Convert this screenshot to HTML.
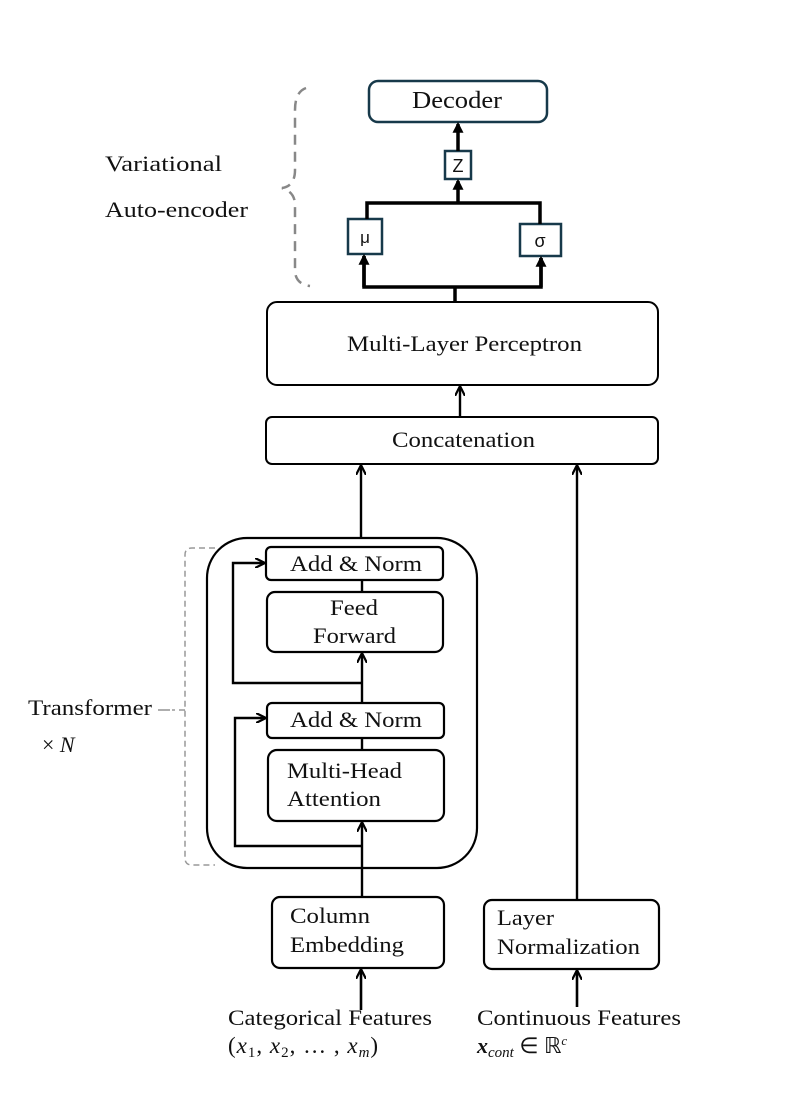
<!DOCTYPE html>
<html><head><meta charset="utf-8"><style>
html,body{margin:0;padding:0;background:#fff}
svg text{font-family:"Liberation Serif",serif;fill:#111}
</style></head><body>
<svg width="812" height="1108" viewBox="0 0 812 1108" xmlns="http://www.w3.org/2000/svg">
<defs>
<marker id="a" viewBox="0 0 10 10" refX="9" refY="5" markerWidth="10" markerHeight="10" markerUnits="userSpaceOnUse" orient="auto"><path d="M0,0 L10,5 L0,10" fill="none" stroke="#000" stroke-width="2.2"/></marker>
<marker id="b" viewBox="0 0 10 10" refX="8" refY="5" markerWidth="11" markerHeight="13" markerUnits="userSpaceOnUse" orient="auto"><path d="M0,0 L10,5 L0,10 Z" fill="#000"/></marker>
</defs>
<!-- VAE -->
<rect x="369" y="81" width="178" height="41" rx="9" fill="#fff" stroke="#17394a" stroke-width="2.5"/>
<text x="412" y="108" font-size="24" textLength="90" lengthAdjust="spacingAndGlyphs">Decoder</text>
<rect x="445" y="151" width="26" height="28" fill="#fff" stroke="#17394a" stroke-width="2.5"/>
<text x="458" y="172" font-size="18" text-anchor="middle" style="font-family:'Liberation Sans',sans-serif">Z</text>
<rect x="348" y="219" width="34" height="35" fill="#fff" stroke="#17394a" stroke-width="2.5"/>
<text x="365" y="243" font-size="17" text-anchor="middle" style="font-family:'Liberation Sans',sans-serif">μ</text>
<rect x="520" y="224" width="41" height="32" fill="#fff" stroke="#17394a" stroke-width="2.5"/>
<text x="540" y="247" font-size="18" text-anchor="middle" style="font-family:'Liberation Sans',sans-serif">σ</text>
<g stroke="#000" stroke-width="3.5" fill="none">
<line x1="458" y1="151" x2="458" y2="124" marker-end="url(#b)"/>
<line x1="458" y1="203" x2="458" y2="181" marker-end="url(#b)"/>
<polyline points="367,219 367,203 540,203 540,224"/>
<polyline points="364,256 364,287 541,287 541,258"/>
<line x1="364" y1="287" x2="364" y2="256" marker-end="url(#b)"/>
<line x1="541" y1="287" x2="541" y2="258" marker-end="url(#b)"/>
<line x1="455" y1="287" x2="455" y2="302"/>
</g>
<path d="M306,88 Q295,92 295,110 L295,170 Q295,186 282,188 Q295,192 295,205 L295,270 Q295,284 310,286" fill="none" stroke="#888" stroke-width="2.5" stroke-dasharray="10,7"/>
<text x="105" y="171" font-size="22" textLength="117" lengthAdjust="spacingAndGlyphs">Variational</text>
<text x="105" y="217" font-size="22" textLength="143" lengthAdjust="spacingAndGlyphs">Auto-encoder</text>
<!-- MLP / concat -->
<rect x="267" y="302" width="391" height="83" rx="10" fill="#fff" stroke="#000" stroke-width="2"/>
<text x="347" y="351" font-size="22" textLength="235" lengthAdjust="spacingAndGlyphs">Multi-Layer Perceptron</text>
<rect x="266" y="417" width="392" height="47" rx="6" fill="#fff" stroke="#000" stroke-width="2"/>
<text x="392" y="447" font-size="22" textLength="143" lengthAdjust="spacingAndGlyphs">Concatenation</text>
<g stroke="#000" stroke-width="2.4" fill="none">
<line x1="460" y1="416" x2="460" y2="387" marker-end="url(#a)"/>
<line x1="361" y1="538" x2="361" y2="466" marker-end="url(#a)"/>
<line x1="577" y1="900" x2="577" y2="466" marker-end="url(#a)"/>
</g>
<!-- transformer -->
<rect x="207" y="538" width="270" height="330" rx="40" fill="none" stroke="#000" stroke-width="2.2"/>
<path d="M215,548 L192,548 Q185,548 185,555 L185,858 Q185,865 192,865 L215,865 M185,710 L172,710" fill="none" stroke="#999" stroke-width="1.5" stroke-dasharray="6,4"/>
<line x1="158" y1="710" x2="170" y2="710" stroke="#777" stroke-width="1.2"/>
<g stroke="#000" stroke-width="2.4" fill="none">
<line x1="362" y1="580" x2="362" y2="592"/>
<line x1="362" y1="703" x2="362" y2="654" marker-end="url(#a)"/>
<line x1="362" y1="738" x2="362" y2="750"/>
<line x1="362" y1="897" x2="362" y2="823" marker-end="url(#a)"/>
<polyline points="362,683 233,683 233,563 264,563" marker-end="url(#a)"/>
<polyline points="362,846 235,846 235,718 265,718" marker-end="url(#a)"/>
</g>
<g fill="#fff" stroke="#000" stroke-width="2.2">
<rect x="266" y="547" width="177" height="33" rx="5"/>
<rect x="267" y="592" width="176" height="60" rx="8"/>
<rect x="267" y="703" width="177" height="35" rx="5"/>
<rect x="268" y="750" width="176" height="71" rx="9"/>
</g>
<text x="290" y="571" font-size="22" textLength="132" lengthAdjust="spacingAndGlyphs">Add &amp; Norm</text>
<text x="330" y="615" font-size="22" textLength="48" lengthAdjust="spacingAndGlyphs">Feed</text>
<text x="313" y="643" font-size="22" textLength="83" lengthAdjust="spacingAndGlyphs">Forward</text>
<text x="290" y="727" font-size="22" textLength="132" lengthAdjust="spacingAndGlyphs">Add &amp; Norm</text>
<text x="287" y="778" font-size="22" textLength="115" lengthAdjust="spacingAndGlyphs">Multi-Head</text>
<text x="287" y="806" font-size="22" textLength="94" lengthAdjust="spacingAndGlyphs">Attention</text>
<text x="28" y="715" font-size="22" textLength="124" lengthAdjust="spacingAndGlyphs">Transformer</text>
<text x="42" y="752" font-size="22">× <tspan font-style="italic">N</tspan></text>
<!-- bottom -->
<rect x="272" y="897" width="172" height="71" rx="8" fill="#fff" stroke="#000" stroke-width="2.2"/>
<text x="290" y="923" font-size="22" textLength="80" lengthAdjust="spacingAndGlyphs">Column</text>
<text x="290" y="952" font-size="22" textLength="114" lengthAdjust="spacingAndGlyphs">Embedding</text>
<rect x="484" y="900" width="175" height="69" rx="8" fill="#fff" stroke="#000" stroke-width="2.2"/>
<text x="497" y="925" font-size="22" textLength="57" lengthAdjust="spacingAndGlyphs">Layer</text>
<text x="497" y="954" font-size="22" textLength="143" lengthAdjust="spacingAndGlyphs">Normalization</text>
<g stroke="#000" stroke-width="2.6" fill="none">
<line x1="361" y1="1010" x2="361" y2="970" marker-end="url(#a)"/>
<line x1="577" y1="1007" x2="577" y2="971" marker-end="url(#a)"/>
</g>
<text x="228" y="1025" font-size="22" textLength="204" lengthAdjust="spacingAndGlyphs">Categorical Features</text>
<text x="228" y="1053" font-size="23" letter-spacing="1">(<tspan font-style="italic">x</tspan><tspan font-size="15" dy="4">1</tspan><tspan dy="-4">, </tspan><tspan font-style="italic">x</tspan><tspan font-size="15" dy="4">2</tspan><tspan dy="-4">, … , </tspan><tspan font-style="italic">x</tspan><tspan font-size="15" dy="4" font-style="italic">m</tspan><tspan dy="-4">)</tspan></text>
<text x="477" y="1025" font-size="22" textLength="204" lengthAdjust="spacingAndGlyphs">Continuous Features</text>
<text x="477" y="1053" font-size="22"><tspan font-weight="bold" font-style="italic">x</tspan><tspan font-size="15" dy="4" font-style="italic">cont</tspan><tspan dy="-4"> ∈ ℝ</tspan><tspan font-size="13" dy="-8" font-style="italic">c</tspan></text>
</svg>
</body></html>
